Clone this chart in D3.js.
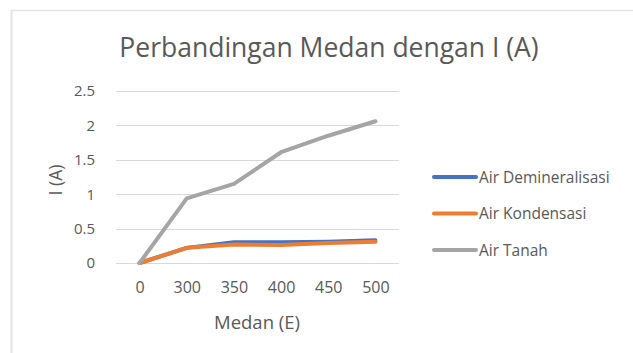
<!DOCTYPE html>
<html><head><meta charset="utf-8">
<script src="https://cdn.jsdelivr.net/npm/d3@7/dist/d3.min.js"></script>
<style>body{margin:0;background:#fff}svg{display:block}text{font-family:"Open Sans",sans-serif;fill:#595959}</style>
</head><body><svg id="c" width="633" height="353"></svg>
<script>
const categories = ["0","300","350","400","450","500"];
const seriesNames = ["Air Demineralisasi","Air Kondensasi","Air Tanah"];
const airDemineralisasi = [0,0.22,0.30,0.30,0.31,0.33];
const airKondensasi = [0,0.22,0.27,0.26,0.29,0.31];
const airTanah = [0,0.94,1.15,1.61,1.85,2.06];
const yTicks = [0,0.5,1,1.5,2,2.5];
const colors = ["#4472C4","#ED7D31","#A5A5A5"];
const title = "Perbandingan Medan dengan I (A)";
const xTitle = "Medan (E)";
const yTitle = "I (A)";

const svg = d3.select("#c");
// chart frame (only top and left edges visible)
svg.append("line").attr("x1",11).attr("x2",633).attr("y1",10.5).attr("y2",10.5).attr("stroke","#e3e3e3").attr("stroke-width",1.5);
svg.append("line").attr("x1",11.5).attr("x2",11.5).attr("y1",10).attr("y2",353).attr("stroke","#e3e3e3").attr("stroke-width",2);

const x = d3.scalePoint().domain(categories).range([116,399]).padding(0.5);
const y = d3.scaleLinear().domain([0,2.5]).range([263,91]);

// gridlines
svg.append("g").selectAll("line").data(yTicks).join("line")
  .attr("x1",116).attr("x2",399).attr("y1",d=>Math.round(y(d))+0.5).attr("y2",d=>Math.round(y(d))+0.5)
  .attr("stroke","#d9d9d9").attr("stroke-width",1);

// y axis labels
const yAxis = svg.append("g").attr("transform","translate(104,0)")
  .call(d3.axisLeft(y).tickValues(yTicks).tickSize(0).tickPadding(9).tickFormat(d=>String(d)));
yAxis.select(".domain").remove();
yAxis.selectAll("text").style("font-size","15px").style("font-family","'Open Sans',sans-serif").attr("fill","#595959");

// x axis labels
const xAxis = svg.append("g").attr("transform","translate(0,263)")
  .call(d3.axisBottom(x).tickSize(0).tickPadding(19));
xAxis.select(".domain").remove();
xAxis.selectAll("text").style("font-size","16px").style("font-family","'Open Sans',sans-serif").attr("fill","#595959");

// title
svg.append("text").attr("x",329).attr("y",57).attr("text-anchor","middle")
  .style("font-size","26.5px").text(title);
svg.append("text").attr("x",257).attr("y",329).attr("text-anchor","middle")
  .style("font-size","18.5px").text(xTitle);
svg.append("text").attr("transform","translate(62,180) rotate(-90)").attr("text-anchor","middle")
  .style("font-size","17.5px").text(yTitle);

// lines
const data = [airDemineralisasi, airKondensasi, airTanah];
const line = d3.line().x((d,i)=>x(categories[i])).y(d=>y(d));
svg.append("g").selectAll("path").data(data).join("path")
  .attr("d",line).attr("fill","none").attr("stroke",(d,i)=>colors[i])
  .attr("stroke-width",4).attr("stroke-linejoin","round").attr("stroke-linecap","round");

// legend
const lg = svg.append("g").selectAll("g").data(seriesNames).join("g")
  .attr("transform",(d,i)=>`translate(0,${177+i*36.5})`);
lg.append("line").attr("x1",434).attr("x2",476).attr("y1",0).attr("y2",0)
  .attr("stroke",(d,i)=>colors[i]).attr("stroke-width",4).attr("stroke-linecap","round");
lg.append("text").attr("x",479).attr("y",5.5).style("font-size","15.5px").text(d=>d);
</script></body></html>
